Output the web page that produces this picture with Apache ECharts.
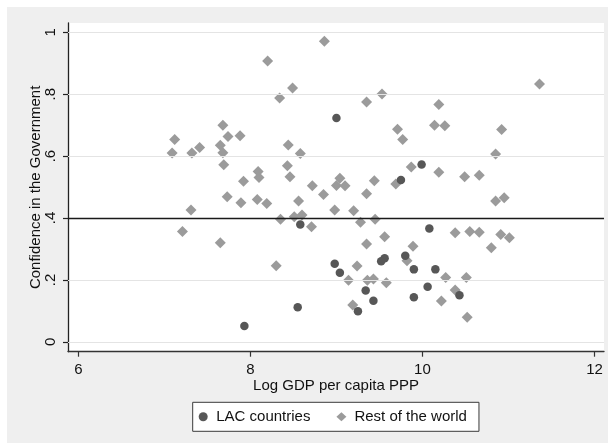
<!DOCTYPE html>
<html>
<head>
<meta charset="utf-8">
<script src="https://cdn.jsdelivr.net/npm/echarts@6/dist/echarts.min.js"></script>
<style>
html,body{margin:0;padding:0;background:#fff;}
#chart{width:608px;height:443px;}
</style>
</head>
<body>
<div id="chart"></div>
<script>
// ---- data ----
const seriesNames = ['LAC countries', 'Rest of the world'];
const lacX = [7.93, 8.58, 8.55, 9.00, 9.99, 9.75, 10.08, 9.56, 9.52, 9.80, 8.98, 9.04, 9.90, 10.15, 9.34, 10.06, 10.43, 9.43, 9.90, 9.25];
const lacY = [0.051, 0.379, 0.112, 0.723, 0.573, 0.523, 0.366, 0.270, 0.260, 0.278, 0.252, 0.223, 0.234, 0.234, 0.166, 0.178, 0.150, 0.133, 0.144, 0.099];
const restX = [7.12, 7.09, 7.32, 7.41, 7.68, 7.65, 7.74, 7.88, 7.68, 7.69, 7.92, 8.09, 8.10, 7.73, 7.89, 8.08, 7.31, 7.21, 7.65,
  8.20, 8.49, 8.34, 8.44, 8.58, 8.43, 8.46, 8.86, 8.72, 8.85, 8.19, 8.56, 8.35, 8.51, 8.60, 8.71, 8.30,
  9.53, 9.35, 10.19, 10.14, 10.26, 9.71, 9.77, 9.87, 10.19, 10.49, 9.04, 9.00, 9.10, 9.44, 9.69, 9.35, 8.98, 9.20, 9.28, 9.45,
  10.38, 9.56, 9.35, 9.89, 9.82, 9.24, 10.27, 9.14, 9.36, 9.43, 9.58, 10.38, 10.22, 9.19,
  11.36, 10.92, 10.85, 10.66, 10.85, 10.95, 10.55, 10.66, 10.91, 11.01, 10.80, 10.51, 10.52];
const restY = [0.654, 0.610, 0.610, 0.628, 0.700, 0.635, 0.663, 0.666, 0.611, 0.572, 0.519, 0.550, 0.531, 0.469, 0.449, 0.460, 0.426, 0.356, 0.320,
  0.907, 0.820, 0.788, 0.636, 0.608, 0.569, 0.533, 0.971, 0.504, 0.476, 0.447, 0.455, 0.396, 0.404, 0.410, 0.372, 0.246,
  0.801, 0.775, 0.767, 0.700, 0.698, 0.687, 0.654, 0.565, 0.548, 0.533, 0.528, 0.505, 0.504, 0.520, 0.510, 0.478, 0.426, 0.423, 0.386, 0.396,
  0.352, 0.339, 0.316, 0.309, 0.262, 0.245, 0.208, 0.199, 0.199, 0.203, 0.191, 0.167, 0.132, 0.119,
  0.833, 0.686, 0.607, 0.538, 0.455, 0.465, 0.356, 0.354, 0.347, 0.336, 0.304, 0.208, 0.079];
const xTicks = [6, 8, 10, 12];
const yTicks = [0, 0.2, 0.4, 0.6, 0.8, 1];
const yTickLabels = ['0', '.2', '.4', '.6', '.8', '1'];
const refLineY = 0.4;
const xTitle = 'Log GDP per capita PPP';
const yTitle = 'Confidence in the Government';

// ---- build chart ----
const FONT = "'Liberation Sans', Arial, sans-serif";
const lacData = lacX.map((x, i) => [x, lacY[i]]);
const restData = restX.map((x, i) => [x, restY[i]]);

const gridLines = yTicks.filter(v => v !== refLineY).map(v => ({
  yAxis: v, lineStyle: { color: '#e4e4e4', width: 1, type: 'solid' }
}));
gridLines.push({ yAxis: refLineY, lineStyle: { color: '#1a1a1a', width: 1.3, type: 'solid' } });

const chart = echarts.init(document.getElementById('chart'), null, { renderer: 'canvas' });
chart.setOption({
  animation: false,
  backgroundColor: '#efefef',
  textStyle: { fontFamily: FONT },
  graphic: {
    elements: [
      { type: 'rect', shape: { x: 0, y: 0, width: 608, height: 7 }, style: { fill: '#ffffff' }, silent: true },
      { type: 'rect', shape: { x: 0, y: 0, width: 7, height: 443 }, style: { fill: '#ffffff' }, silent: true }
    ]
  },
  grid: {
    left: 68, right: 4, top: 23, bottom: 91.3,
    show: true, backgroundColor: '#ffffff', borderWidth: 0,
    containLabel: false, outerBoundsMode: 'none'
  },
  legend: {
    data: seriesNames,
    left: 192.7, top: 402.3,
    orient: 'horizontal',
    padding: [7, 12, 7, 6],
    itemGap: 26,
    itemWidth: 10, itemHeight: 9,
    backgroundColor: '#ffffff',
    borderColor: '#3a3a3a', borderWidth: 1,
    borderRadius: 0,
    textStyle: { fontFamily: FONT, fontSize: 15, color: '#111', padding: [0, 0, 0, 3] },
    selectedMode: false
  },
  xAxis: {
    type: 'value',
    min: 5.88, max: 12.11,
    name: xTitle, nameLocation: 'middle', nameGap: 27, nameMoveOverlap: false,
    nameTextStyle: { fontFamily: FONT, fontSize: 15, color: '#111' },
    axisLine: { show: true, onZero: false, lineStyle: { color: '#333', width: 1.3 } },
    axisTick: { show: true, inside: false, length: 5, customValues: xTicks, lineStyle: { color: '#333', width: 1.2 } },
    axisLabel: { show: true, customValues: xTicks, fontFamily: FONT, fontSize: 15, color: '#111', margin: 11 },
    splitLine: { show: false }
  },
  yAxis: {
    type: 'value',
    min: -0.032, max: 1.03,
    name: yTitle, nameLocation: 'middle', nameGap: 25, nameMoveOverlap: false,
    nameTextStyle: { fontFamily: FONT, fontSize: 15, color: '#111' },
    axisLine: { show: true, onZero: false, lineStyle: { color: '#222', width: 1.3 } },
    axisTick: { show: true, inside: false, length: 5, customValues: yTicks, lineStyle: { color: '#222', width: 1.2 } },
    axisLabel: {
      show: true, customValues: yTicks, rotate: 90, fontFamily: FONT, fontSize: 15, color: '#111', margin: 10,
      formatter: function (v) {
        for (let i = 0; i < yTicks.length; i++) { if (Math.abs(yTicks[i] - v) < 1e-9) return yTickLabels[i]; }
        return '';
      }
    },
    splitLine: { show: false }
  },
  series: [
    {
      name: 'refLines', type: 'scatter', data: [], z: 1, silent: true,
      markLine: { silent: true, symbol: ['none', 'none'], label: { show: false }, animation: false, data: gridLines }
    },
    {
      name: seriesNames[1], type: 'scatter', data: restData, symbol: 'diamond', symbolSize: 11, z: 3,
      itemStyle: { color: '#9b9b9b', opacity: 1 }, silent: true
    },
    {
      name: seriesNames[0], type: 'scatter', data: lacData, symbol: 'circle', symbolSize: 8.5, z: 4,
      itemStyle: { color: '#575757', opacity: 1 }, silent: true
    }
  ]
});
</script>
</body>
</html>
